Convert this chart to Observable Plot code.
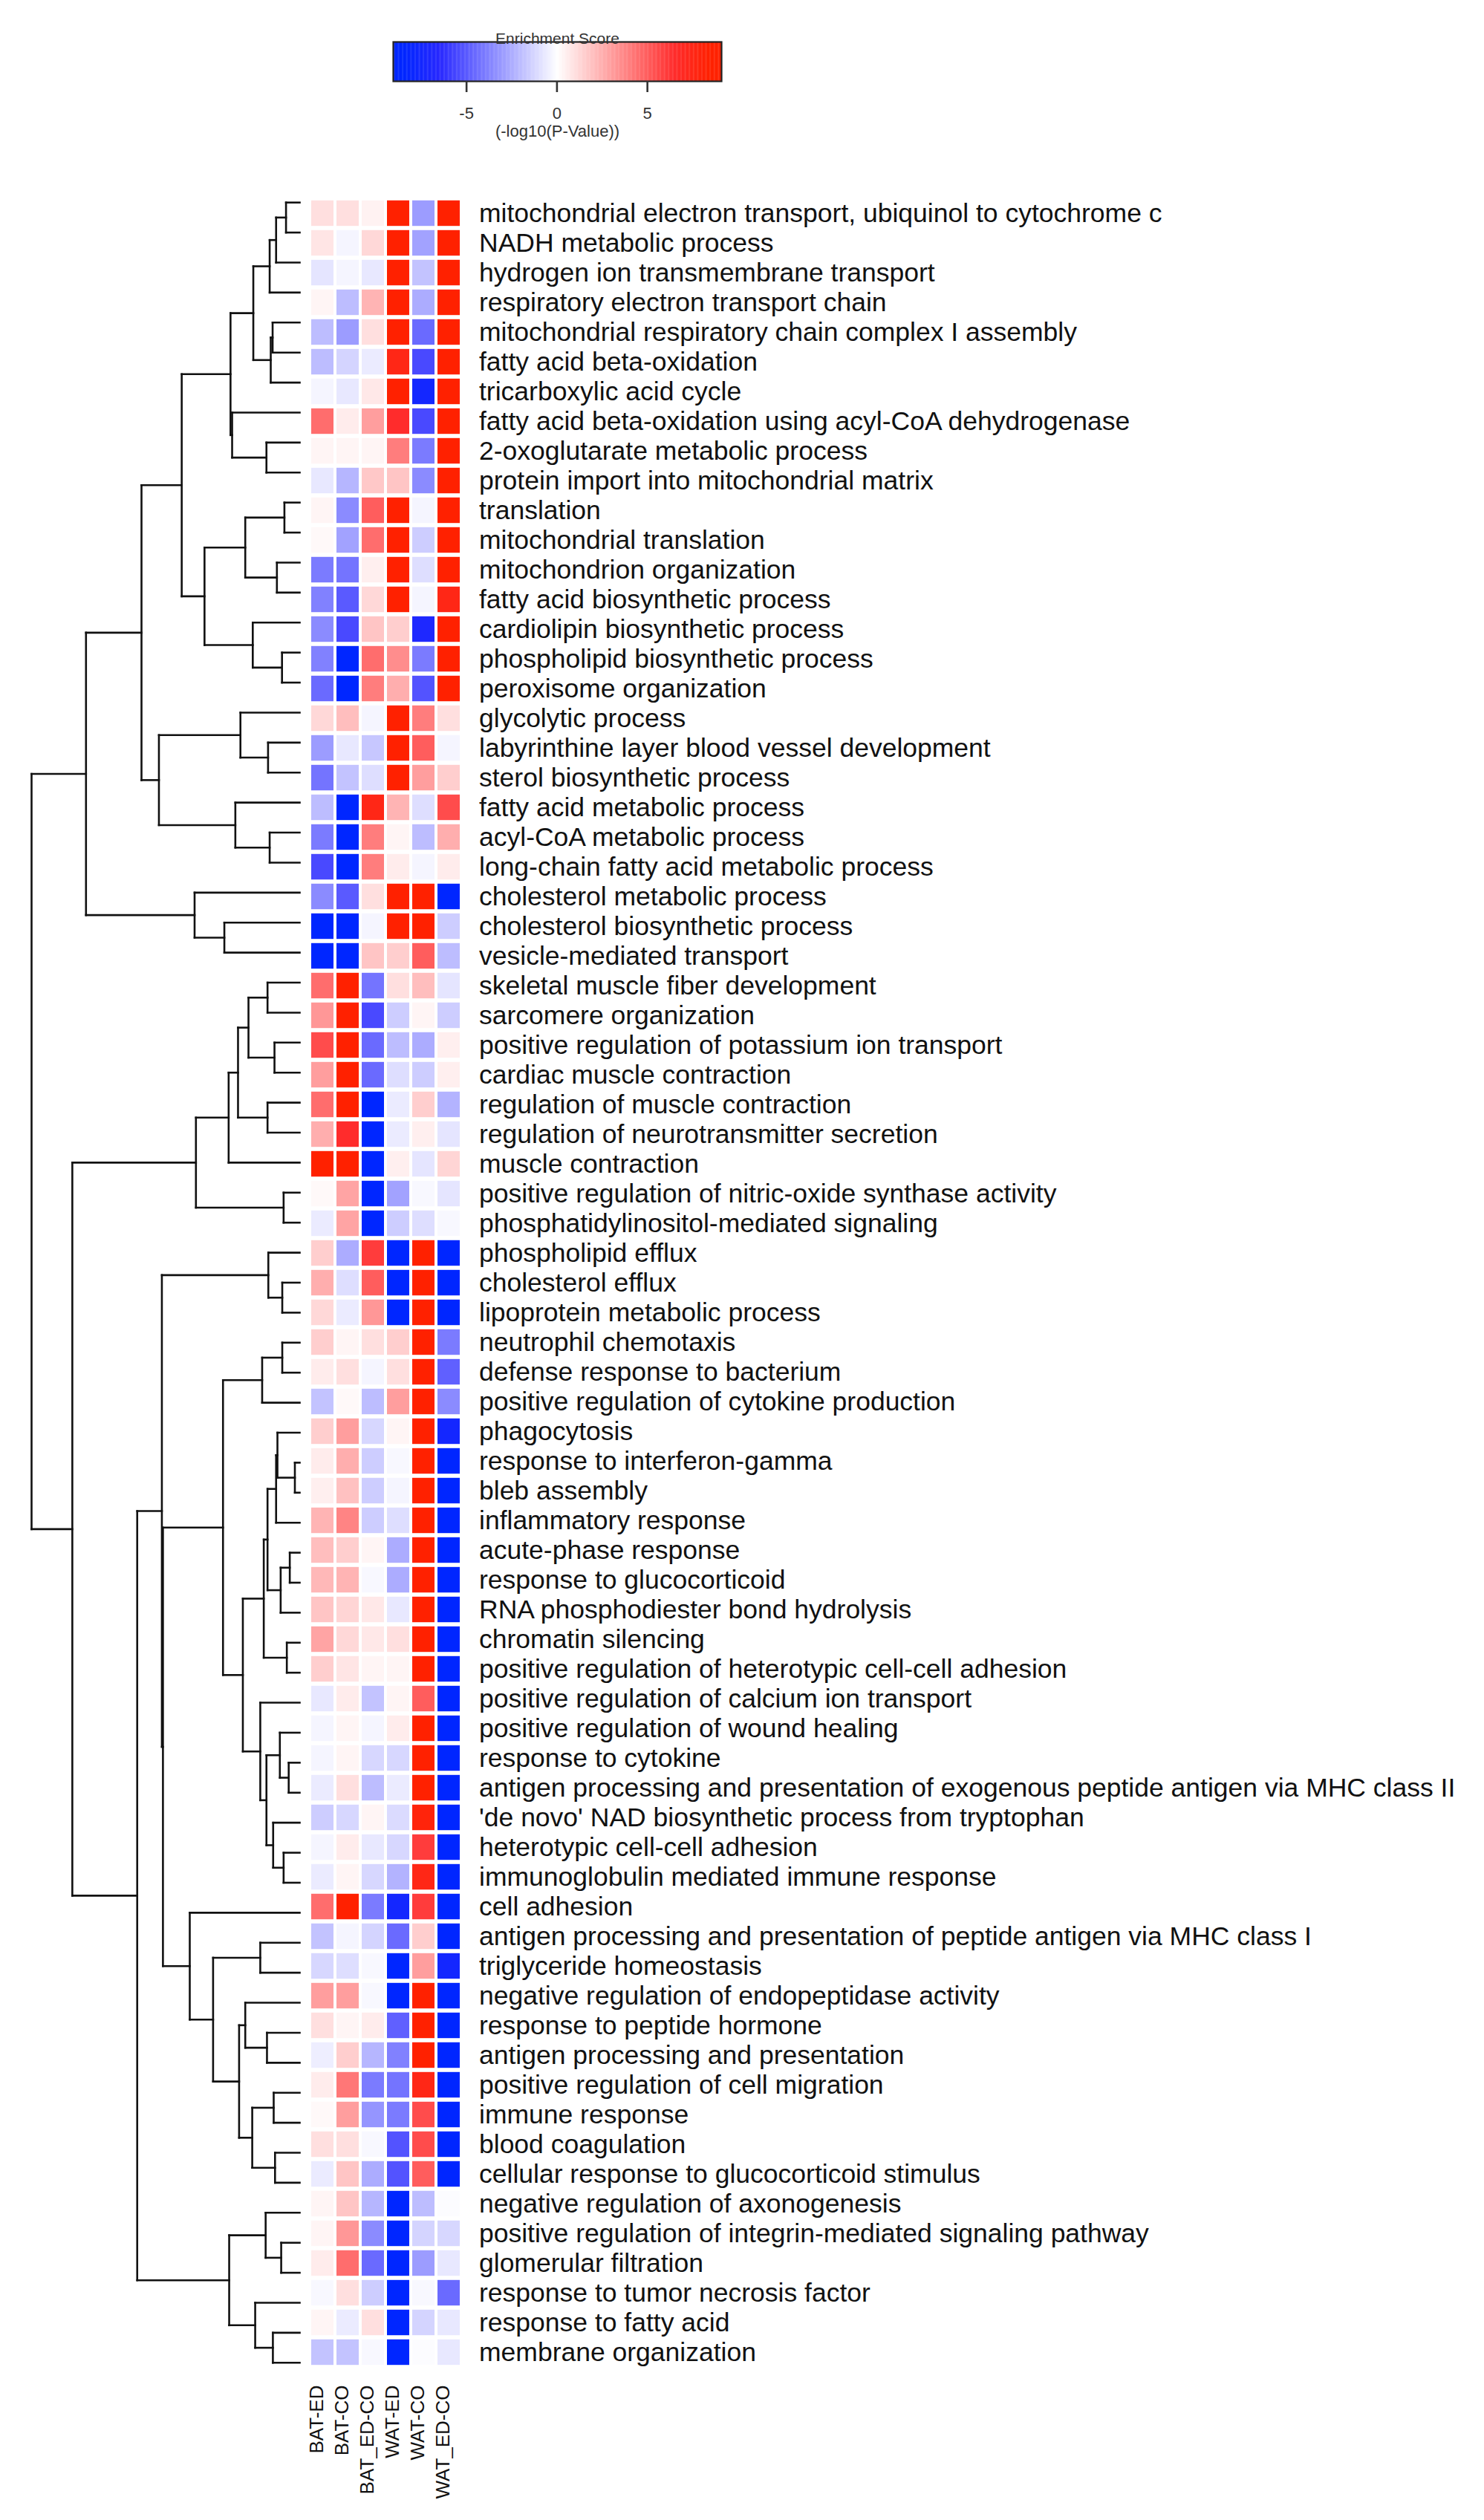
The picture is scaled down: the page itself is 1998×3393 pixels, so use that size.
<!DOCTYPE html>
<html>
<head>
<meta charset="utf-8">
<script src="https://cdn.jsdelivr.net/npm/d3@7"></script>
<script src="https://cdn.jsdelivr.net/npm/@observablehq/plot@0.6"></script>
<style>
  html, body { margin: 0; padding: 0; background: #ffffff; }
  #wrap { position: relative; width: 1998px; height: 3393px; overflow: hidden; }
  #wrap svg { position: absolute; left: 0; top: 0; }
</style>
</head>
<body>
<div id="wrap"></div>
<script>
// ---------------- DATA ----------------
const columns = ["BAT-ED", "BAT-CO", "BAT_ED-CO", "WAT-ED", "WAT-CO", "WAT_ED-CO"];

const terms = [
  "mitochondrial electron transport, ubiquinol to cytochrome c",
  "NADH metabolic process",
  "hydrogen ion transmembrane transport",
  "respiratory electron transport chain",
  "mitochondrial respiratory chain complex I assembly",
  "fatty acid beta-oxidation",
  "tricarboxylic acid cycle",
  "fatty acid beta-oxidation using acyl-CoA dehydrogenase",
  "2-oxoglutarate metabolic process",
  "protein import into mitochondrial matrix",
  "translation",
  "mitochondrial translation",
  "mitochondrion organization",
  "fatty acid biosynthetic process",
  "cardiolipin biosynthetic process",
  "phospholipid biosynthetic process",
  "peroxisome organization",
  "glycolytic process",
  "labyrinthine layer blood vessel development",
  "sterol biosynthetic process",
  "fatty acid metabolic process",
  "acyl-CoA metabolic process",
  "long-chain fatty acid metabolic process",
  "cholesterol metabolic process",
  "cholesterol biosynthetic process",
  "vesicle-mediated transport",
  "skeletal muscle fiber development",
  "sarcomere organization",
  "positive regulation of potassium ion transport",
  "cardiac muscle contraction",
  "regulation of muscle contraction",
  "regulation of neurotransmitter secretion",
  "muscle contraction",
  "positive regulation of nitric-oxide synthase activity",
  "phosphatidylinositol-mediated signaling",
  "phospholipid efflux",
  "cholesterol efflux",
  "lipoprotein metabolic process",
  "neutrophil chemotaxis",
  "defense response to bacterium",
  "positive regulation of cytokine production",
  "phagocytosis",
  "response to interferon-gamma",
  "bleb assembly",
  "inflammatory response",
  "acute-phase response",
  "response to glucocorticoid",
  "RNA phosphodiester bond hydrolysis",
  "chromatin silencing",
  "positive regulation of heterotypic cell-cell adhesion",
  "positive regulation of calcium ion transport",
  "positive regulation of wound healing",
  "response to cytokine",
  "antigen processing and presentation of exogenous peptide antigen via MHC class II",
  "'de novo' NAD biosynthetic process from tryptophan",
  "heterotypic cell-cell adhesion",
  "immunoglobulin mediated immune response",
  "cell adhesion",
  "antigen processing and presentation of peptide antigen via MHC class I",
  "triglyceride homeostasis",
  "negative regulation of endopeptidase activity",
  "response to peptide hormone",
  "antigen processing and presentation",
  "positive regulation of cell migration",
  "immune response",
  "blood coagulation",
  "cellular response to glucocorticoid stimulus",
  "negative regulation of axonogenesis",
  "positive regulation of integrin-mediated signaling pathway",
  "glomerular filtration",
  "response to tumor necrosis factor",
  "response to fatty acid",
  "membrane organization"
];

// Enrichment score (-log10 P-value, signed), one array per column, in row order
const BAT_ED = [1,0.8,-0.8,0.3,-2,-2,-0.3,4.5,0.3,-0.7, 0.3,0.2,-4,-3.8,-3.5,-3.8,-4.5,1.2,-3,-4.2,
  -2,-4,-5.5,-3.5,-9,-9,4.5,3.2,5.5,3, 4.5,2.5,9,0.2,-0.6,1.5,2.5,1.2,1.5,0.6,
  -1.8,1.5,0.6,0.5,2.3,2,2.2,1.8,2.8,1.5, -0.7,-0.3,-0.3,-0.6,-1.5,-0.3,-0.6,4.5,-1.8,-1.2,
  3,1,-0.5,0.6,0.2,1,-0.6,0.3,0.3,0.6, -0.2,0.3,-1.8];
const BAT_CO = [1,-0.3,-0.3,-2,-3,-1.3,-0.7,0.6,0.3,-2.2, -3.5,-2.8,-4.2,-5,-5.5,-9,-9,2,-0.7,-1.8,
  -9,-9,-9,-5,-8.5,-9,9,9,9,9, 9,6.5,9,2.8,2.8,-2.5,-1,-0.6,0.3,1,
  0.2,3,2.5,1.9,3.8,1.5,2.3,1.3,1.2,0.8, 0.6,0.3,0.3,1,-1.2,0.6,0.3,9,-0.3,-1,
  3,0.3,1.5,4.2,3,1,1.8,1.8,3.2,4.5, 1,-0.6,-1.8];
const BAT_ED_CO = [0.4,1.2,-0.7,2.3,1,-0.6,0.7,3,0.3,1.7, 5,4.5,0.5,1.2,1.8,4.5,4,-0.3,-1.7,-1,
  7.5,4,4,1,-0.3,1.8,-4.2,-5.5,-4.5,-4.5, -9,-9,-9,-9,-9,6,5,3.2,1,-0.3,
  -2,-1.2,-1.5,-1.5,-1.5,0.3,-0.2,0.7,0.7,0.3, -1.8,-0.3,-1.2,-2,0.3,-0.7,-1.2,-4,-1.3,-0.2,
  -0.2,0.6,-2.2,-4,-3.2,-0.2,-2.5,-2.2,-3.5,-4.5, -1.5,1,-0.2];
const WAT_ED = [9,9,9,9,9,7.5,9,6.5,4,1.8, 9,9,9,9,1.5,3.5,2.5,9,9,9,
  2.3,0.3,0.6,8.5,9,1.5,1,-1.5,-2,-1, -0.6,-0.6,0.5,-2.8,-1.5,-9,-9,-9,1.5,1,
  3,0.3,-0.2,-0.3,-1,-2.5,-2.5,-0.7,1,0.3, 0.3,0.6,-1.2,-0.6,-1.1,-1.2,-2.3,-7.5,-4.5,-9,
  -9,-4.8,-3.8,-4.2,-4,-5.2,-5.2,-9,-9,-9, -9,-9,-9];
const WAT_CO = [-3,-2.8,-1.8,-2.5,-4.5,-5.5,-7.5,-5.5,-4,-3.5, -0.3,-1.5,-1,-0.3,-7,-4,-5.2,4,5,3,
  -1,-2,-0.3,9,9,5,2,0.3,-2.5,-1.5, 1.5,0.5,-0.8,-0.2,-1,9,9,9,9,9,
  9,9,9,9,9,9,9,9,9,9, 5,9,9,9,8,6,7.5,6,1.5,3,
  9,9,9,7.5,5.5,5.5,5,-2,-1.3,-3, -0.2,-1.3,-0.1];
const WAT_ED_CO = [9,9,9,9,9,9,9,9,9,9, 9,9,9,7.5,9,8.5,9,1,-0.3,1.5,
  5.5,2.5,0.6,-9,-1.5,-2,-0.8,-1.5,0.5,0.5, -2.3,-0.8,1.3,-0.8,-0.2,-9,-9,-9,-4,-4.8,
  -3.5,-7.5,-9,-9,-9,-9,-9,-9,-9,-8.5, -9,-9,-9,-9,-9,-9,-9,-9,-9,-7.5,
  -9,-9,-9,-9,-9,-9,-9,-0.1,-1.2,-0.7, -4.5,-0.7,-0.7];

// Row dendrogram: [node, child A, child B, merge height]; numbers are row indices
const merges = [
  ["A",0,1,5.1],["B","A",2,8.8],["C","B",3,11.2],["D1",4,5,10.1],["D","D1",6,10.8],
  ["E","C","D",17.3],["F",8,9,12.4],["G",7,"F",25.2],["H","E","G",25.8],
  ["I",10,11,5.7],["J",12,13,8.5],["K","I","J",20.3],["L",15,16,6.6],["M",14,"L",17.5],
  ["N","K","M",35.5],["O","H","N",44.0],
  ["P",18,19,11.8],["Q",17,"P",22.1],["R",21,22,11.2],["S",20,"R",24.0],["T","Q","S",52.5],
  ["U","O","T",59.0],["V",24,25,28.1],["W",23,"V",39.2],["X","U","W",79.7],
  ["a",26,27,12.0],["b",28,29,9.4],["c","a","b",19.1],["d",30,31,12.0],["e","c","d",23.0],
  ["f","e",32,26.5],["g",33,34,6.0],["h","f","g",38.7],
  ["i",36,37,6.5],["j",35,"i",11.7],["k1",38,39,6.5],["k","k1",40,14.0],
  ["l1",42,43,1.8],["l2",41,"l1",8.3],["l3","l2",44,8.8],["m1",45,46,3.7],["m2","m1",47,7.1],
  ["m3","l3","m2",12.0],["n1",48,49,4.8],["n","m3","n1",13.4],
  ["o1",52,53,4.1],["o2",51,"o1",7.4],["p1",55,56,6.0],["p2",54,"p1",9.9],["p3","o2","p2",12.4],
  ["p",50,"p3",14.7],["q","n","p",21.2],["r","k","q",28.6],
  ["s1",58,59,14.7],["s2a",61,62,12.2],["s2",60,"s2a",20.3],["s3a",63,64,9.7],["s3b",65,66,9.2],
  ["s3","s3a","s3b",17.7],["s4","s2","s3",22.6],["s5","s1","s4",32.3],["s",57,"s5",41.0],
  ["t","r","s",51.0],["u","j","t",51.4],
  ["v1",68,69,6.9],["v",67,"v1",12.7],["w1",71,72,10.0],["w",70,"w1",16.6],["vw","v","w",26.3],
  ["y","u","vw",60.6],["z","h","y",84.8],["root","X","z",100]
];

const legendTitle = "Enrichment Score";
const legendLabel = "(-log10(P-Value))";
const legendTicks = [-5, 0, 5];
const legendDomain = [-9.05, 9.1];

// ---------------- BUILD ----------------
const FONT = "'Liberation Sans', Arial, Helvetica, sans-serif";
const colorScale = {
  type: "linear",
  domain: [-8.5, -6.5, 0, 6.5, 8.5],
  range: ["#0026ff", "#2828ff", "#ffffff", "#ff2c2c", "#ff2100"],
  clamp: true
};

const TOP = 252, BOTTOM = 3201;       // row band extent (px)
const LEFT = 414.5, RIGHT = 622.5;    // heatmap column extent (px)

const valueCols = [BAT_ED, BAT_CO, BAT_ED_CO, WAT_ED, WAT_CO, WAT_ED_CO];
const cells = [];
terms.forEach((t, i) => columns.forEach((c, j) => cells.push({term: t, col: c, value: valueCols[j][i]})));

// dendrogram segments from merge table
const nodePos = new Map();
const pos = c => typeof c === "number" ? {y: c + 0.5, h: 0} : nodePos.get(c);
const segs = [];
for (const [name, a, b, h] of merges) {
  const pa = pos(a), pb = pos(b);
  segs.push({x1: h, x2: h, y1: pa.y, y2: pb.y});
  segs.push({x1: pa.h, x2: h, y1: pa.y, y2: pa.y});
  segs.push({x1: pb.h, x2: h, y1: pb.y, y2: pb.y});
  nodePos.set(name, {y: (pa.y + pb.y) / 2, h});
}

const wrap = document.getElementById("wrap");

// legend
const steps = d3.range(legendDomain[0], legendDomain[1], 0.05);
const legend = Plot.plot({
  width: 1998, height: 230,
  marginLeft: 529, marginRight: 1027, marginTop: 56, marginBottom: 121,
  style: {background: "transparent", fontFamily: FONT, overflow: "visible"},
  x: {domain: legendDomain},
  color: colorScale,
  marks: [
    Plot.rect(steps, {x1: d => d, x2: d => d + 0.065, fill: d => d}),
    Plot.frame({stroke: "#222", strokeWidth: 2.2}),
    Plot.axisX({ticks: legendTicks, tickSize: 15, tickPadding: 20, strokeWidth: 2.6,
      fontSize: 22, tickFormat: d => String(d), label: null, color: "#333"}),
    Plot.text([legendTitle], {frameAnchor: "top", dy: -12, fontSize: 21, fill: "#333"}),
    Plot.text([legendLabel], {frameAnchor: "bottom", dy: 74, fontSize: 22, fill: "#333"})
  ]
});
wrap.appendChild(legend);

// dendrogram
const dendro = Plot.plot({
  width: 1998, height: 3393,
  marginLeft: 42, marginRight: 1595, marginTop: TOP, marginBottom: 3393 - BOTTOM,
  style: {background: "transparent", overflow: "visible"},
  x: {domain: [100, 0], range: [42, 403], axis: null},
  y: {domain: [0, terms.length], range: [TOP, BOTTOM], axis: null},
  marks: [
    Plot.link(segs, {x1: "x1", y1: "y1", x2: "x2", y2: "y2", stroke: "#111",
      strokeWidth: 2.6, strokeLinecap: "square"})
  ]
});
wrap.appendChild(dendro);

// heatmap with labels
const heat = Plot.plot({
  width: 1998, height: 3393,
  marginLeft: LEFT, marginRight: 1998 - RIGHT, marginTop: TOP, marginBottom: 3393 - BOTTOM,
  style: {background: "transparent", fontFamily: FONT, overflow: "visible"},
  x: {type: "band", domain: columns, padding: 0, axis: null},
  y: {type: "band", domain: terms, padding: 0, axis: null},
  color: colorScale,
  marks: [
    Plot.cell(cells, {x: "col", y: "term", fill: "value",
      insetLeft: 2, insetRight: 2, insetTop: 2.8, insetBottom: 2.8}),
    Plot.text(terms, {y: d => d, frameAnchor: "right", dx: 22, textAnchor: "start",
      fontSize: 35.5, fill: "#111"}),
    Plot.text(columns, {x: d => d, frameAnchor: "bottom", rotate: -90, textAnchor: "end",
      dy: 10, fontSize: 26, fill: "#111"})
  ]
});
wrap.appendChild(heat);
</script>
</body>
</html>
